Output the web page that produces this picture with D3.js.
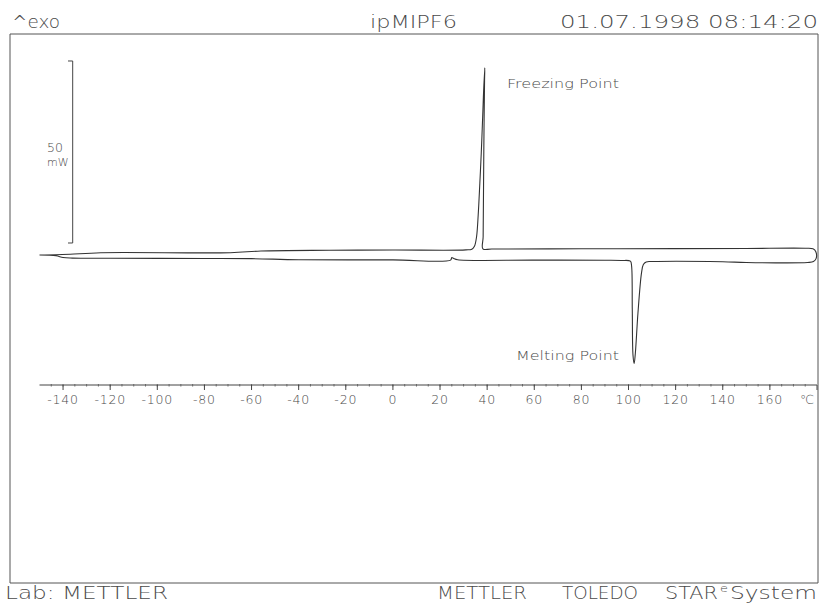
<!DOCTYPE html>
<html>
<head>
<meta charset="utf-8">
<script src="https://cdn.jsdelivr.net/npm/d3@7"></script>
<style>
  body { margin: 0; background: #fff; }
  text { font-family: "DejaVu Sans", sans-serif; font-weight: 200; fill: #4a4a4a; }
</style>
</head>
<body>
<div class="chart"></div>
<script>
// heating run, -150 -> 180 degC (lower trace, melting endotherm)
const heatT = [-150, -143, -140, -136, -120, -80, -60, -40, 0, 24.5, 25.0, 25.8, 27.5, 60, 90, 97, 100.8,
    101.3, 101.6, 101.9, 102.4, 102.9, 104, 105.5, 106.3, 107.5, 110, 140, 150, 176, 178.5, 179.6]
const heatMW = [0, -0.2, -0.7, -0.85, -0.9, -0.95, -1.0, -1.3, -1.35, -1.4, -0.7, -0.95, -1.3, -1.4, -1.45, -1.5, -1.7,
    -3, -15, -27.5, -29.8, -27, -16, -5, -2.6, -1.9, -1.8, -1.85, -2.05, -2.05, -1.8, -1.0]

// cooling run, 180 -> -150 degC (upper trace, freezing exotherm)
const coolT = [179.5, 178.3, 175, 150, 120, 80, 42, 38.2, 38.3, 38.6, 38.9, 39.0, 38.5, 38.1, 37.5, 36.9, 36.2,
    35.5, 34.6, 33.5, 31, 0, -27, -56, -69, -124, -137, -143, -150]
const coolMW = [0.9, 1.7, 1.85, 1.8, 1.75, 1.7, 1.65, 1.7, 5, 30, 48, 51.4, 45, 38, 28, 19.8, 11,
    5, 2.4, 1.6, 1.4, 1.37, 1.3, 1.1, 0.63, 0.63, 0.19, 0.05, 0]

const tickValues = [-140, -120, -100, -80, -60, -40, -20, 0, 20, 40, 60, 80, 100, 120, 140, 160]
const scaleBar = [3.3, 53.3]   // 50 mW bar

const width = 819
const height = 604

const svg = d3.select('.chart').append('svg')
    .attr('width', width)
    .attr('height', height)

const x = d3.scaleLinear().domain([-150, 180]).range([39.5, 817])
const y = d3.scaleLinear().domain([0, 50]).range([255, 73])

// frame
svg.append('path')
    .attr('d', 'M10,583 V34 H818 V583 Z')
    .attr('fill', 'none')
    .attr('stroke', '#555')
    .attr('stroke-width', 1)

// header / footer
const label = (txt, px, py, size, len, anchor = 'start') => {
    const t = svg.append('text')
        .attr('x', px).attr('y', py)
        .attr('font-size', size)
        .attr('text-anchor', anchor)
        .text(txt)
    if (len) t.attr('textLength', len).attr('lengthAdjust', 'spacingAndGlyphs')
    return t
}
label('^exo', 12, 28, 18, 48)
label('ipMIPF6', 370, 28, 18, 87)
label('01.07.1998 08:14:20', 560, 28, 18, 258)
label('Lab: METTLER', 5, 599, 17, 163)
label('METTLER', 437, 599, 17, 90)
label('TOLEDO', 562, 599, 17, 76)
label('STAR', 665, 599, 17, 53)
label('e', 720, 592, 11, 8)
label('System', 730, 599, 17, 87)

// temperature axis
const axis = svg.append('g')
axis.append('line')
    .attr('x1', x(-150)).attr('x2', x(180))
    .attr('y1', 385).attr('y2', 385)
    .attr('stroke', '#444')
axis.selectAll('.minor')
    .data(d3.range(-145, 180, 5))
    .enter().append('line')
    .attr('x1', d => x(d)).attr('x2', d => x(d))
    .attr('y1', 384).attr('y2', 386.5)
    .attr('stroke', '#666')
axis.selectAll('.major')
    .data(tickValues.concat([180]))
    .enter().append('line')
    .attr('x1', d => x(d)).attr('x2', d => x(d))
    .attr('y1', 385).attr('y2', 390)
    .attr('stroke', '#444')
axis.selectAll('text')
    .data(tickValues)
    .enter().append('text')
    .attr('x', d => x(d))
    .attr('y', 404)
    .attr('font-size', 12.5)
    .attr('text-anchor', 'middle')
    .attr('letter-spacing', 0.8)
    .text(d => d)
label('\u2103', 807, 404, 12.5, null, 'middle')

// 50 mW scale bar
svg.append('path')
    .attr('d', `M68,${y(scaleBar[1])} H72.7 V${y(scaleBar[0])} H68`)
    .attr('fill', 'none')
    .attr('stroke', '#444')
label('50', 47, 152, 12.5)
label('mW', 47, 166, 11)

// DSC trace
const trace = heatT.map((t, i) => [t, heatMW[i]])
    .concat(coolT.map((t, i) => [t, coolMW[i]]))
const line = d3.line()
    .x(d => x(d[0]))
    .y(d => y(d[1]))
    .curve(d3.curveCatmullRom.alpha(0.5))
svg.append('path')
    .attr('d', line(trace))
    .attr('fill', 'none')
    .attr('stroke', '#333')
    .attr('stroke-width', 1.1)

// annotations
label('Freezing Point', 507, 88, 12, 112)
label('Melting Point', 516, 360, 12, 103)
</script>
</body>
</html>
